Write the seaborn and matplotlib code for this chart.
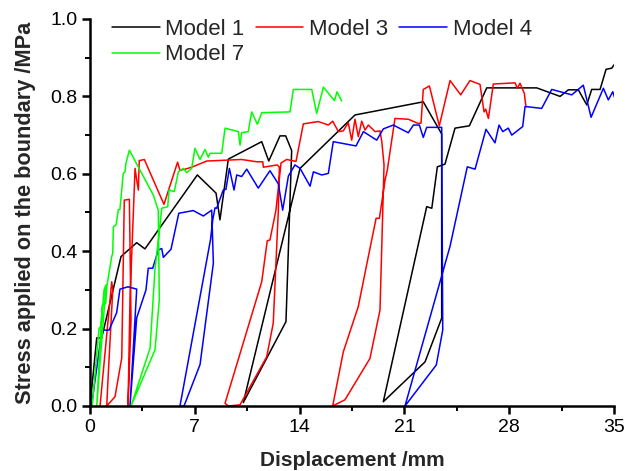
import matplotlib
matplotlib.use("Agg")
import matplotlib.pyplot as plt
import seaborn as sns
import pandas as pd
from matplotlib.lines import Line2D
from matplotlib.ticker import MultipleLocator, FormatStrFormatter

# ---- data (displacement mm, stress MPa) ----
m1_x = [0, 0.45, 0.78, 2.07, 2.56, 3.12, 3.67, 7.17, 8.42, 8.68, 9.24, 11.47, 11.94, 12.69,
        13.07, 13.47, 13.09, 10.24, 14.03, 17.70, 22.26, 23.49, 23.49, 22.38, 19.59, 22.49,
        22.83, 23.2, 23.71, 24.38, 25.34, 26.5, 29.84, 31.4, 31.95, 32.62, 33.18, 33.51,
        34.07, 34.47, 34.85, 35.1]
m1_y = [0, 0.176, 0.176, 0.386, 0.403, 0.422, 0.406, 0.597, 0.55, 0.481, 0.638, 0.683, 0.633,
        0.698, 0.698, 0.66, 0.218, 0.009, 0.614, 0.752, 0.786, 0.703, 0.227, 0.114, 0.011,
        0.515, 0.511, 0.618, 0.625, 0.718, 0.724, 0.822, 0.822, 0.80, 0.817, 0.817, 0.778,
        0.818, 0.818, 0.87, 0.873, 0.887]

m3_x = [0.67, 1.45, 1.52, 1.20, 1.12, 1.67, 2.12, 2.29, 2.63, 2.74, 2.54, 2.67, 3.01, 3.12,
        3.23, 3.29, 3.63, 4.94, 5.85, 6.01, 6.35, 6.79, 7.80, 10.13, 11.14, 11.54, 11.58,
        12.51, 12.65, 12.58, 12.24, 11.80, 10.02, 9.24, 9.02, 11.47, 11.84, 12.02, 12.42,
        12.76, 13.14, 13.76, 14.25, 15.25, 15.92, 16.21, 16.59, 16.92, 17.25, 17.48, 17.70,
        17.92, 18.15, 18.37, 18.59, 19.04, 19.37, 19.49, 19.64, 19.37, 18.70, 17.03, 16.21,
        16.92, 17.92, 18.59, 19.11, 19.33, 19.71, 19.86, 20.37, 21.26, 21.93, 22.11, 22.26,
        22.67, 23.33, 24.05, 24.76, 25.38, 26.05, 26.32, 26.43, 26.61, 26.94, 28.39, 28.54,
        28.72, 29.01, 29.12]
m3_y = [0, 0.321, 0.30, 0.067, 0, 0.024, 0.124, 0.532, 0.534, 0.222, 0, 0.274, 0.614, 0.584,
        0.558, 0.634, 0.637, 0.521, 0.63, 0.609, 0.612, 0.617, 0.633, 0.637, 0.631, 0.631,
        0.617, 0.623, 0.617, 0.506, 0.214, 0.127, 0.003, 0, 0.007, 0.321, 0.427, 0.429, 0.506,
        0.628, 0.637, 0.632, 0.729, 0.735, 0.726, 0.736, 0.709, 0.711, 0.732, 0.687, 0.741,
        0.696, 0.736, 0.713, 0.726, 0.709, 0.711, 0.683, 0.623, 0.248, 0.123, 0.016, 0,
        0.14, 0.257, 0.386, 0.485, 0.485, 0.584, 0.61, 0.743, 0.741, 0.730, 0.731, 0.818,
        0.827, 0.724, 0.841, 0.804, 0.841, 0.831, 0.760, 0.767, 0.743, 0.832, 0.835, 0.821,
        0.834, 0.808, 0.773]

m4_x = [0.1, 0.80, 1.27, 1.78, 2.0, 2.54, 3.12, 2.67, 3.12, 3.74, 3.89, 4.19, 4.56, 4.79, 4.90,
        5.41, 5.93, 6.90, 7.57, 8.13, 8.24, 7.35, 6.28, 6.01, 8.05, 8.2, 8.35, 8.46, 8.90, 9.08,
        9.31, 9.62, 9.80, 10.13, 10.47, 11.24, 12.02, 12.58, 12.87, 13.25, 13.69, 14.03, 14.70,
        14.92, 15.48, 15.92, 16.25, 17.77, 18.26, 19.15, 19.59, 20.26, 21.26, 21.60, 22.0,
        22.26, 22.49, 23.49, 23.56, 23.13, 21.04, 24.05, 25.2, 25.72, 26.45, 27.05, 27.32,
        27.57, 27.94, 28.17, 28.90, 29.06, 30.17, 30.84, 32.18, 32.95, 33.47, 34.29, 34.62,
        34.92, 35.12]
m4_y = [0, 0.196, 0.196, 0.241, 0.302, 0.308, 0.302, 0, 0.228, 0.30, 0.356, 0.356, 0.403,
        0.407, 0.384, 0.405, 0.498, 0.505, 0.491, 0.506, 0.369, 0.107, 0, 0, 0.43, 0.481,
        0.512, 0.511, 0.558, 0.56, 0.614, 0.558, 0.597, 0.593, 0.612, 0.563, 0.608, 0.574,
        0.506, 0.594, 0.623, 0.614, 0.568, 0.605, 0.597, 0.601, 0.683, 0.672, 0.709, 0.687,
        0.716, 0.726, 0.706, 0.726, 0.726, 0.694, 0.72, 0.72, 0.196, 0.106, 0, 0.413, 0.618,
        0.612, 0.715, 0.68, 0.726, 0.709, 0.718, 0.70, 0.722, 0.774, 0.769, 0.818, 0.804,
        0.829, 0.746, 0.821, 0.791, 0.812, 0.787]

m7_x = [0.15, 0.6, 0.73, 0.94, 1.07, 0.45, 0.82, 1.05, 1.12, 1.45, 1.52, 1.56, 1.74, 1.89, 2.0,
        2.22, 2.34, 2.40, 2.63, 4.23, 4.56, 4.63, 4.34, 2.74, 4.01, 4.34, 4.68, 4.79, 5.19,
        5.28, 5.63, 5.90, 6.23, 6.46, 6.79, 7.01, 7.35, 7.68, 7.90, 8.02, 8.80, 9.02, 9.91,
        10.02, 10.13, 10.57, 10.80, 11.18, 11.47, 13.36, 13.58, 14.81, 15.14, 15.59, 16.33,
        16.5, 16.81]
m7_y = [0, 0.2, 0.206, 0.30, 0.313, 0, 0.26, 0.265, 0.308, 0.386, 0.395, 0.463, 0.468, 0.507,
        0.508, 0.601, 0.605, 0.627, 0.661, 0.545, 0.506, 0.274, 0.145, 0, 0.149, 0.353, 0.469,
        0.511, 0.515, 0.558, 0.554, 0.605, 0.614, 0.603, 0.614, 0.666, 0.637, 0.663, 0.643,
        0.653, 0.653, 0.718, 0.709, 0.674, 0.706, 0.709, 0.760, 0.728, 0.758, 0.76, 0.818,
        0.818, 0.756, 0.824, 0.789, 0.812, 0.788]

labels = ["Model 1", "Model 3", "Model 4", "Model 7"]
colors = ["#000000", "#FF0000", "#0000FF", "#00FF00"]
x_ticks = [0, 7, 14, 21, 28, 35]

sns.set_theme(style="ticks")
plt.rcParams["font.family"] = ["Liberation Sans", "DejaVu Sans"]

fig = plt.figure(figsize=(6.3, 4.71), dpi=100)
ax = fig.add_axes([90 / 630, 1 - 406 / 471, 524 / 630, 387 / 471])

series = [(m1_x, m1_y), (m3_x, m3_y), (m4_x, m4_y), (m7_x, m7_y)]
handles = []
for (xs, ys), lab, col in zip(series, labels, colors):
    df = pd.DataFrame({"x": xs, "y": ys})
    sns.lineplot(data=df, x="x", y="y", sort=False, estimator=None, color=col,
                 linewidth=1.1, ax=ax)
    handles.append(Line2D([], [], color=col, linewidth=1.1, label=lab))

ax.set_xlim(0, 35)
ax.set_ylim(0, 1.0)
ax.set_xticks(x_ticks)
ax.xaxis.set_minor_locator(MultipleLocator(3.5))
ax.yaxis.set_major_locator(MultipleLocator(0.2))
ax.yaxis.set_minor_locator(MultipleLocator(0.1))
ax.yaxis.set_major_formatter(FormatStrFormatter("%.1f"))

for s in ["top", "right"]:
    ax.spines[s].set_visible(False)
for s in ["left", "bottom"]:
    ax.spines[s].set_linewidth(1.8)
    ax.spines[s].set_color("black")
ax.tick_params(which="major", direction="out", length=6, width=1.8, labelsize=14,
               colors="black", pad=3)
ax.tick_params(which="minor", direction="out", length=3.5, width=1.4, colors="black")

ax.set_xlabel("Displacement /mm", fontsize=15, fontweight="bold", labelpad=11)
ax.set_ylabel("Stress applied on the boundary /MPa", fontsize=15.7, fontweight="bold",
              labelpad=10)

order = [handles[0], handles[3], handles[1], handles[2]]
ax.legend(handles=order, loc="upper left", bbox_to_anchor=(0.042, 1.0), ncol=3,
          frameon=False, fontsize=16, handlelength=2.15, handletextpad=0.25,
          columnspacing=0.5, labelspacing=0.2, borderpad=0, borderaxespad=0)

fig.savefig("out.png", dpi=100)
